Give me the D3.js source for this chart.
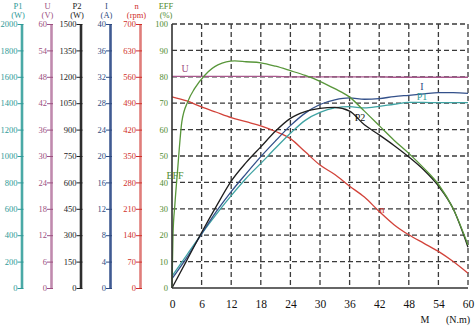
<!DOCTYPE html>
<html>
<head>
<meta charset="utf-8">
<script src="https://cdn.jsdelivr.net/npm/d3@7/dist/d3.min.js"></script>
<style>
  html, body { margin: 0; padding: 0; background: #fff; }
  svg { display: block; }
  text { font-family: "Liberation Serif", "DejaVu Serif", serif; }
</style>
</head>
<body>
<svg id="chart" width="476" height="331"></svg>
<script>
// Torque points (N.m) shared by most curves
const torque = [0, 3, 6, 9, 12, 15, 18, 21, 24, 27, 30, 33, 36, 39, 42, 45, 48, 51, 54, 57, 60];

// Input power P1 (W)
const p1Values = [90, 250, 410, 560, 700, 830, 944, 1060, 1172, 1270, 1330, 1364, 1374, 1364, 1376, 1392, 1406, 1406, 1404, 1404, 1404];
// Voltage U (V)
const uValues = [48.1, 48.1, 48.1, 48.1, 48.1, 48.1, 48.1, 48.1, 48.0, 48.0, 48.0, 48.0, 48.0, 48.0, 48.0, 47.9, 47.9, 47.9, 47.9, 47.9, 47.9];
// Output power P2 (W)
const p2Values = [0, 157, 315, 465, 607, 712, 802, 892, 964, 1002, 1020, 1026, 1005, 927, 870, 810, 745, 672, 580, 450, 232];
// Current I (A)
const iValues = [1.4, 4.6, 8.2, 11.6, 14.6, 17.3, 19.9, 22.3, 24.6, 26.5, 27.8, 28.5, 28.8, 28.6, 28.7, 29.0, 29.2, 29.4, 29.6, 29.6, 29.5];
// Speed n (rpm)
const nValues = [507, 496, 480, 466, 452, 441, 430, 415, 396, 361, 326, 301, 270, 241, 203, 168, 141, 119, 97, 70, 39];

// Efficiency (%) with its own, denser torque points near the start
const effTorque = [0, 0.2, 0.6, 1.15, 2, 3.2, 4.6, 6.7, 9.3, 12.7, 15, 18, 21, 24, 27, 30, 33, 36, 39, 42, 45, 48, 51, 54, 57, 60];
const effValues = [0, 20, 32, 45, 63, 70.6, 75.6, 80.7, 84.5, 86, 85.7, 85.3, 84, 82.3, 80.5, 78.3, 75.5, 72.3, 67, 61.5, 56, 51, 45.5, 39.3, 30, 16.3];

// Tick labels for each axis
const p1Ticks = d3.range(0, 2001, 200);
const uTicks = d3.range(0, 61, 6);
const p2Ticks = d3.range(0, 1501, 150);
const iTicks = d3.range(0, 41, 4);
const nTicks = d3.range(0, 701, 70);
const effTicks = d3.range(0, 101, 10);
const mTicks = d3.range(0, 61, 6);

const svg = d3.select("#chart");
svg.append("rect").attr("width", 476).attr("height", 331).attr("fill", "#fff");

const plotTop = 24, plotBottom = 288, plotLeft = 172, plotRight = 468;
const plain = d3.format("d");

const x = d3.scaleLinear().domain([0, 60]).range([plotLeft, plotRight]);
const yP1 = d3.scaleLinear().domain([0, 2000]).range([plotBottom, plotTop]);
const yU = d3.scaleLinear().domain([0, 60]).range([plotBottom, plotTop]);
const yP2 = d3.scaleLinear().domain([0, 1500]).range([plotBottom, plotTop]);
const yI = d3.scaleLinear().domain([0, 40]).range([plotBottom, plotTop]);
const yN = d3.scaleLinear().domain([0, 700]).range([plotBottom, plotTop]);
const yEff = d3.scaleLinear().domain([0, 100]).range([plotBottom, plotTop]);

// Dashed grid
const grid = svg.append("g").attr("stroke", "#3a3a3a").attr("stroke-width", 1.3)
  .attr("stroke-dasharray", "5,3").attr("fill", "none");
mTicks.filter(d => d > 0).forEach(d => {
  grid.append("line").attr("x1", x(d)).attr("x2", x(d)).attr("y1", plotTop).attr("y2", plotBottom);
});
effTicks.filter(d => d > 0).forEach(d => {
  grid.append("line").attr("x1", plotLeft).attr("x2", plotRight).attr("y1", yEff(d)).attr("y2", yEff(d));
});

// Left-hand value axes
const axes = [
  { name: "P1", unit: "(W)", pos: 21.5, scale: yP1, ticks: p1Ticks, line: "#4aa9a6", text: "#2f9a98" },
  { name: "U", unit: "(V)", pos: 51, scale: yU, ticks: uTicks, line: "#c08aae", text: "#9c4f80" },
  { name: "P2", unit: "(W)", pos: 80.5, scale: yP2, ticks: p2Ticks, line: "#2e2e2e", text: "#222" },
  { name: "I", unit: "(A)", pos: 110, scale: yI, ticks: iTicks, line: "#3f5a92", text: "#2f4a80" },
  { name: "n", unit: "(rpm)", pos: 140, scale: yN, ticks: nTicks, line: "#e07d7a", text: "#d0302a" }
];

axes.forEach(a => {
  const g = svg.append("g").attr("transform", `translate(${a.pos},0)`)
    .call(d3.axisLeft(a.scale).tickValues(a.ticks).tickFormat(plain)
      .tickSizeInner(4).tickSizeOuter(0).tickPadding(1));
  g.select(".domain").attr("stroke", a.line).attr("stroke-width", 2.6);
  g.selectAll(".tick line").attr("stroke", a.text).attr("stroke-width", 1).attr("x2", 2).attr("x1", -4);
  g.selectAll(".tick text").attr("fill", a.text).attr("font-size", 8.5)
    .attr("font-family", "Liberation Serif, serif").attr("x", -4);
  svg.append("text").attr("x", a.pos - 3.5).attr("y", 9).attr("text-anchor", "middle")
    .attr("font-size", 8.5).attr("fill", a.text).text(a.name);
  svg.append("text").attr("x", a.pos - 3.5).attr("y", 18).attr("text-anchor", "middle")
    .attr("font-size", 8.5).attr("fill", a.text).text(a.unit);
});

// Efficiency axis on the plot's left edge
const effAxis = svg.append("g").attr("transform", `translate(${plotLeft},0)`)
  .call(d3.axisLeft(yEff).tickValues(effTicks).tickFormat(plain).tickSize(0).tickPadding(4));
effAxis.select(".domain").remove();
effAxis.selectAll(".tick text").attr("fill", "#4f8b2f").attr("font-size", 8.5)
  .attr("font-family", "Liberation Serif, serif");
svg.append("text").attr("x", 166).attr("y", 9).attr("text-anchor", "middle")
  .attr("font-size", 8.5).attr("fill", "#4f8b2f").text("EFF");
svg.append("text").attr("x", 166).attr("y", 18).attr("text-anchor", "middle")
  .attr("font-size", 8.5).attr("fill", "#4f8b2f").text("(%)");

// Torque axis
const mAxis = svg.append("g").attr("transform", `translate(0,${plotBottom})`)
  .call(d3.axisBottom(x).tickValues(mTicks).tickFormat(plain).tickSize(0).tickPadding(12));
mAxis.select(".domain").remove();
mAxis.selectAll(".tick text").attr("fill", "#111").attr("font-size", 11.5)
  .attr("font-family", "Liberation Serif, serif");
svg.append("text").attr("x", 425).attr("y", 323).attr("text-anchor", "middle")
  .attr("font-size", 10).attr("fill", "#111").text("M");
svg.append("text").attr("x", 458).attr("y", 323).attr("text-anchor", "middle")
  .attr("font-size", 10).attr("fill", "#111").text("(N.m)");

// Performance curves
function drawCurve(xs, ys, yScale, color) {
  const line = d3.line().x((d, i) => x(xs[i])).y(d => yScale(d)).curve(d3.curveMonotoneX);
  svg.append("path").datum(ys).attr("d", line).attr("fill", "none")
    .attr("stroke", color).attr("stroke-width", 1.3);
}
drawCurve(torque, uValues, yU, "#a8578c");
drawCurve(torque, nValues, yN, "#d2433a");
drawCurve(torque, p1Values, yP1, "#3fa3a3");
drawCurve(torque, iValues, yI, "#33508a");
drawCurve(torque, p2Values, yP2, "#1e1e1e");
drawCurve(effTorque, effValues, yEff, "#58963a");

// Solid frame edges
svg.append("line").attr("x1", plotLeft).attr("x2", plotLeft).attr("y1", plotTop).attr("y2", plotBottom)
  .attr("stroke", "#333").attr("stroke-width", 1.6);
svg.append("line").attr("x1", plotLeft).attr("x2", plotRight).attr("y1", plotBottom).attr("y2", plotBottom)
  .attr("stroke", "#333").attr("stroke-width", 1.6);

// Curve labels
const labels = [
  { t: "U", x: 185, y: 72, c: "#9c4f80" },
  { t: "I", x: 422, y: 90, c: "#2f4a80" },
  { t: "P1", x: 422, y: 100, c: "#2f9a98" },
  { t: "P2", x: 360, y: 121, c: "#111" },
  { t: "n", x: 382, y: 213, c: "#d0302a" },
  { t: "EFF", x: 175, y: 179, c: "#4f8b2f" }
];
labels.forEach(l => {
  svg.append("text").attr("x", l.x).attr("y", l.y).attr("text-anchor", "middle")
    .attr("font-size", 10).attr("fill", l.c).text(l.t);
});
</script>
</body>
</html>
